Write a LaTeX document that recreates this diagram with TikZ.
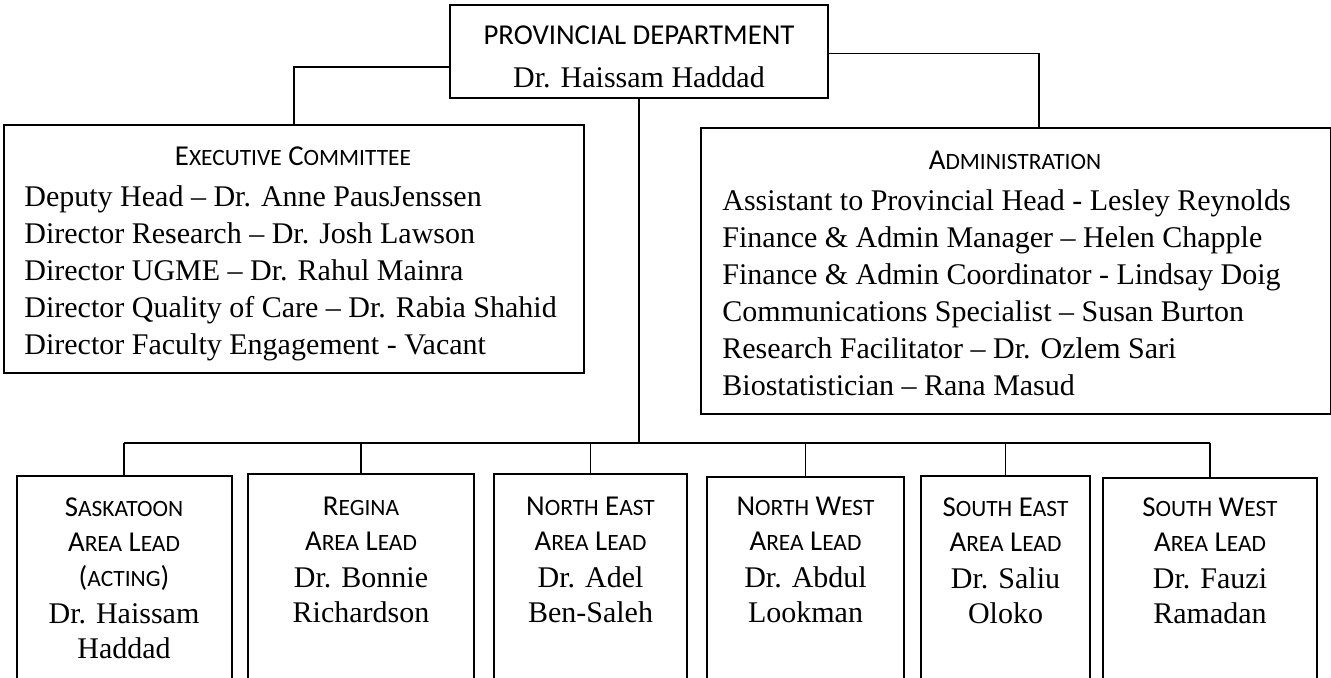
\documentclass[tikz,border=0pt]{standalone}
\usepackage{fontspec}
\setmainfont{Liberation Serif}
\newfontfamily\headfont{Carlito}
\usetikzlibrary{positioning}

\newcommand\body{\rmfamily\fontsize{15}{17.5}\selectfont}
\newcommand\head{\headfont\fontsize{14.4}{17.5}\selectfont}
\newcommand\capsm[2]{#1{\fontsize{11.7}{17.5}\selectfont #2}}

\begin{document}
\begin{tikzpicture}[x=0.5pt, y=-0.5pt,
	box/.style={draw, line width=1pt, inner sep=0pt},
	lead/.style={anchor=north, align=center, inner sep=0pt, font=\head},
	item/.style={anchor=base west, inner sep=0pt, font=\body},
	title/.style={anchor=base, inner sep=0pt, font=\head},
	link/.style={line width=0.6pt}]

	\useasboundingbox (0,0) rectangle (1331,677);

	% Kopf
	\node[box, minimum width=189pt, minimum height=46.5pt] (prov) at (639,51.5) {};
	\node[title] (provT) at (639,44) {PROVINCIAL DEPARTMENT};
	\node[title, font=\body] (provN) at (639,87) {Dr. Haissam Haddad};

	% Ausschuss links
	\node[box, anchor=north west, minimum width=290pt, minimum height=124pt] (exec) at (3,124) {};
	\node[title] (execT) at (293,165) {\capsm{E}{XECUTIVE} \capsm{C}{OMMITTEE}};
	\node[item] (exec1) at (24,206) {Deputy Head – Dr. Anne PausJenssen};
	\node[item] (exec2) at (24,243) {Director Research – Dr. Josh Lawson};
	\node[item] (exec3) at (24,280) {Director UGME – Dr. Rahul Mainra};
	\node[item] (exec4) at (24,317) {Director Quality of Care – Dr. Rabia Shahid};
	\node[item] (exec5) at (24,354) {Director Faculty Engagement - Vacant};

	% Verwaltung rechts
	\node[box, anchor=north west, minimum width=315pt, minimum height=143pt] (admin) at (700,127) {};
	\node[title] (adminT) at (1015,169) {\capsm{A}{DMINISTRATION}};
	\node[item] (admin1) at (722,210) {Assistant to Provincial Head - Lesley Reynolds};
	\node[item] (admin2) at (722,247) {Finance \& Admin Manager – Helen Chapple};
	\node[item] (admin3) at (722,284) {Finance \& Admin Coordinator - Lindsay Doig};
	\node[item] (admin4) at (722,321) {Communications Specialist – Susan Burton};
	\node[item] (admin5) at (722,358) {Research Facilitator – Dr. Ozlem Sari};
	\node[item] (admin6) at (722,395) {Biostatistician – Rana Masud};

	% Bereiche unten
	\node[box, anchor=north, minimum width=107.5pt, minimum height=110pt] (sask) at (124,475) {};
	\node[box, anchor=north, minimum width=113pt, minimum height=110pt] (regina) at (361,473) {};
	\node[box, anchor=north, minimum width=96.5pt, minimum height=110pt] (neast) at (590.5,473) {};
	\node[box, anchor=north, minimum width=98.5pt, minimum height=110pt] (nwest) at (805.5,476) {};
	\node[box, anchor=north, minimum width=84.5pt, minimum height=110pt] (seast) at (1005.5,475) {};
	\node[box, anchor=north, minimum width=107pt, minimum height=110pt] (swest) at (1210,477) {};

	\node[lead, below=11pt of sask.north] (saskT)
		{\capsm{S}{ASKATOON}\\\capsm{A}{REA} \capsm{L}{EAD}\\({\fontsize{11.7}{17.5}\selectfont ACTING})\\[1pt]\body Dr. Haissam\\\body Haddad};
	\node[lead, below=12pt of regina.north] (reginaT)
		{\capsm{R}{EGINA}\\\capsm{A}{REA} \capsm{L}{EAD}\\[1pt]\body Dr. Bonnie\\\body Richardson};
	\node[lead, below=12pt of neast.north] (neastT)
		{\capsm{N}{ORTH} \capsm{E}{AST}\\\capsm{A}{REA} \capsm{L}{EAD}\\[1pt]\body Dr. Adel\\\body Ben-Saleh};
	\node[lead, below=10.5pt of nwest.north] (nwestT)
		{\capsm{N}{ORTH} \capsm{W}{EST}\\\capsm{A}{REA} \capsm{L}{EAD}\\[1pt]\body Dr. Abdul\\\body Lookman};
	\node[lead, below=11pt of seast.north] (seastT)
		{\capsm{S}{OUTH} \capsm{E}{AST}\\\capsm{A}{REA} \capsm{L}{EAD}\\[1pt]\body Dr. Saliu\\\body Oloko};
	\node[lead, below=10pt of swest.north] (swestT)
		{\capsm{S}{OUTH} \capsm{W}{EST}\\\capsm{A}{REA} \capsm{L}{EAD}\\[1pt]\body Dr. Fauzi\\\body Ramadan};

	% Linien
	\coordinate (bus) at (637,443);
	\draw[link] ([yshift=-7.75pt]prov.west) -| (exec.north);
	\draw[link] ([yshift=-1pt]prov.east) -| ([xshift=11.5pt]admin.north);
	\draw[link] (prov.south) -- (prov.south |- bus);
	\draw[link] (sask.north |- bus) -- (swest.north |- bus);
	\foreach \b in {sask,regina,neast,nwest,seast,swest}
		\draw[link] (\b.north) -- (\b.north |- bus);

\end{tikzpicture}
\end{document}
